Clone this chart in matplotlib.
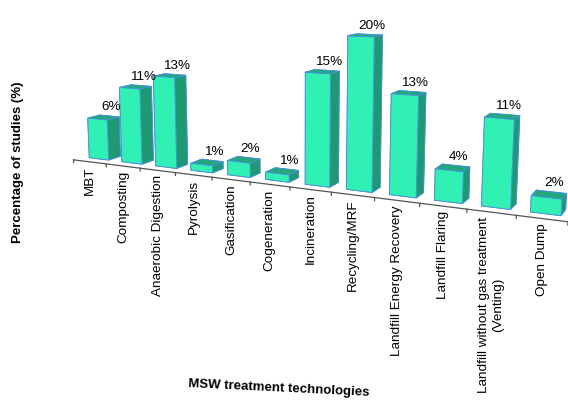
import matplotlib
matplotlib.use("Agg")
import matplotlib.pyplot as plt
import numpy as np
from mpl_toolkits.mplot3d import proj3d

plt.rcParams['font.family'] = ['Liberation Sans', 'DejaVu Sans']

categories = ['MBT', 'Composting', 'Anaerobic Digestion', 'Pyrolysis',
              'Gasification', 'Cogeneration', 'Incineration', 'Recycling/MRF',
              'Landfill Energy Recovery', 'Landfill Flaring',
              'Landfill without gas treatment\n(Venting)', 'Open Dump']
percent = [6, 11, 13, 1, 2, 1, 15, 20, 13, 4, 11, 2]
labels = ['6%', '11%', '13%', '1%', '2%', '1%', '15%', '20%', '13%', '4%', '11%', '2%']
# data labels that carry a leader line onto the bar top
leader = [False, False, False, True, False, True, False, False, False, True, False, True]

front_col = '#30f0b4'
top_col = '#23a87c'
side_col = '#1f9a70'
edge_col = '#4a8fdf'

W, H = 568, 405
S = 405
cx, cy = 294, 291
fig = plt.figure(figsize=(W / 100, H / 100), dpi=100)
ax = fig.add_axes([(cx - S / 2) / W, (cy - S / 2) / H, S / W, S / H], projection='3d')
ax.set_proj_type('persp', focal_length=0.43)
ax.view_init(elev=10, azim=-64)

n = len(categories)
xs = np.arange(n) + 0.5
bar_w = 0.6
bar_d = 0.6
y0 = 0.45

# per-face colours: -z, +z, -y, +y, -x, +x
face_cols = []
for _ in range(n):
    face_cols += [side_col, top_col, front_col, side_col, side_col, side_col]

bars = ax.bar3d(xs - bar_w / 2, np.full(n, y0), np.zeros(n), bar_w, bar_d, percent,
                color=face_cols, edgecolor=edge_col, linewidth=0.6, shade=False)
bars.set_clip_on(False)

# category axis along the front of the floor
line, = ax.plot([0, n], [0, 0], [0, 0], color='#555555', lw=0.9)
line.set_clip_on(False)
for t in range(n + 1):
    tk, = ax.plot([t, t], [0, 0], [0, -0.4], color='#555555', lw=0.9)
    tk.set_clip_on(False)

for x, v, has in zip(xs, percent, leader):
    if has:
        ld, = ax.plot([x, x], [y0, y0 + bar_d], [v, v], color='#c9d3d3', lw=0.8)
        ld.set_clip_on(False)

ax.set_xlim(0, n)
ax.set_ylim(0, 1.2)
ax.set_zlim(0, 20)
ax.set_box_aspect((650, 52, 182), zoom=1.35)
ax.set_axis_off()

# project label anchors into the 2D axes frame
fig.canvas.draw()
M = ax.get_proj()

def to2d(x, y, z):
    px, py, _ = proj3d.proj_transform(x, y, z, M)
    return px, py

for x, lab in zip(xs, categories):
    ax.annotate(lab, xy=to2d(x, 0, 0), xycoords='data', xytext=(0, -3.5),
                textcoords='offset points', rotation=90, ha='center', va='top',
                fontsize=9.7, multialignment='center', annotation_clip=False)

for x, v, lab in zip(xs, percent, labels):
    ax.annotate(lab, xy=to2d(x + 0.05, y0 + bar_d, v), xycoords='data',
                xytext=(0, 2), textcoords='offset points', ha='center', va='bottom',
                fontsize=9.7, annotation_clip=False)

fig.text(0.032, 0.60, 'Percentage of studies (%)', rotation=90, ha='center',
         va='center', fontsize=9.5, fontweight='bold')
fig.text(0.49, 0.04, 'MSW treatment technologies', rotation=-2.8, ha='center',
         va='center', fontsize=9.5, fontweight='bold')

fig.savefig('out.png', dpi=100)
